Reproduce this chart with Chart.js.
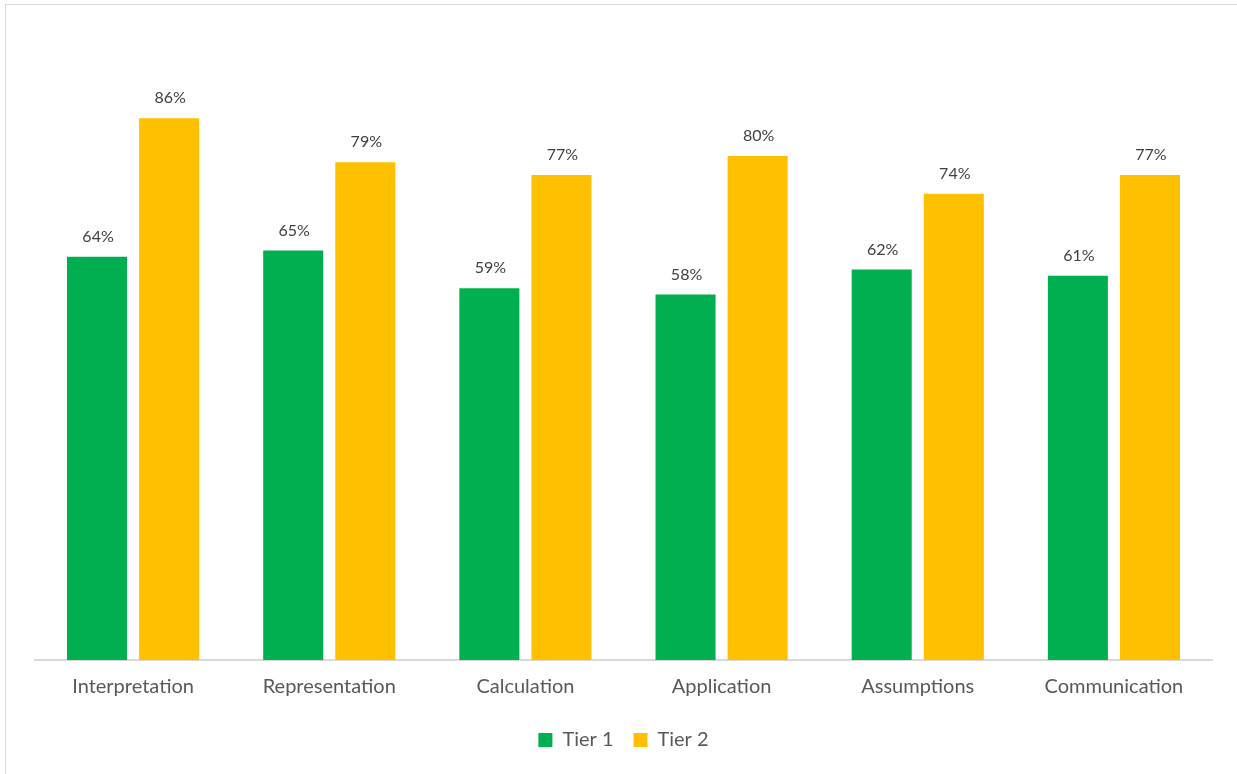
<!DOCTYPE html>
<html>
<head>
<meta charset="utf-8">
<script src="https://cdn.jsdelivr.net/npm/chart.js@4"></script>
<style>
  body { margin: 0; background: #fff; }
  #wrap { position: relative; width: 1237px; height: 774px; }
  #frame { position: absolute; left: 5px; top: 4px; right: -10px; bottom: -10px;
           border-top: 1px solid #d9d9d9; border-left: 1px solid #d9d9d9; pointer-events: none; }
</style>
</head>
<body>
<div id="wrap">
  <canvas id="skills-chart"></canvas>
  <div id="frame"></div>
</div>
<script>
var categories = ['Interpretation', 'Representation', 'Calculation', 'Application', 'Assumptions', 'Communication'];
var tier1 = [64, 65, 59, 58, 62, 61];
var tier2 = [86, 79, 77, 80, 74, 77];

// draws the "64%" style labels above each bar
var barLabels = {
    id: 'barLabels',
    afterDatasetsDraw(chart){
        var ctx = chart.ctx;
        ctx.save();
        ctx.font = '16px Lato';
        ctx.fillStyle = '#404040';
        ctx.textAlign = 'center';
        ctx.textBaseline = 'middle';
        chart.data.datasets.forEach(function(ds, i){
            chart.getDatasetMeta(i).data.forEach(function(bar, j){
                ctx.fillText(ds.data[j] + '%', bar.x + 1, bar.y - 20);
            });
        });
        ctx.restore();
    }
};

Chart.defaults.font.family = 'Lato';
Chart.defaults.color = '#595959';

new Chart(document.getElementById('skills-chart'), {
    type: 'bar',
    data: {
        labels: categories,
        datasets: [{
            label: 'Tier 1',
            data: tier1,
            backgroundColor: '#00B050',
            barPercentage: 0.833,
            categoryPercentage: 0.735
        }, {
            label: 'Tier 2',
            data: tier2,
            backgroundColor: '#FFC000',
            barPercentage: 0.833,
            categoryPercentage: 0.735
        }]
    },
    options: {
        responsive: true,
        maintainAspectRatio: false,
        animation: false,
        layout: {
            padding: { left: 35, right: 25, top: 30, bottom: 14 }
        },
        plugins: {
            legend: {
                position: 'bottom',
                labels: {
                    boxWidth: 14,
                    boxHeight: 14,
                    padding: 20,
                    font: { size: 20 }
                }
            },
            tooltip: { enabled: false }
        },
        scales: {
            x: {
                grid: { display: false },
                border: { color: '#d9d9d9', width: 2 },
                ticks: { padding: 7, font: { size: 20 }, color: '#595959' },
                afterFit(scale){ scale.height = 50; }
            },
            y: {
                display: false,
                min: 0,
                max: 100
            }
        }
    },
    plugins: [barLabels]
});
</script>
</body>
</html>
